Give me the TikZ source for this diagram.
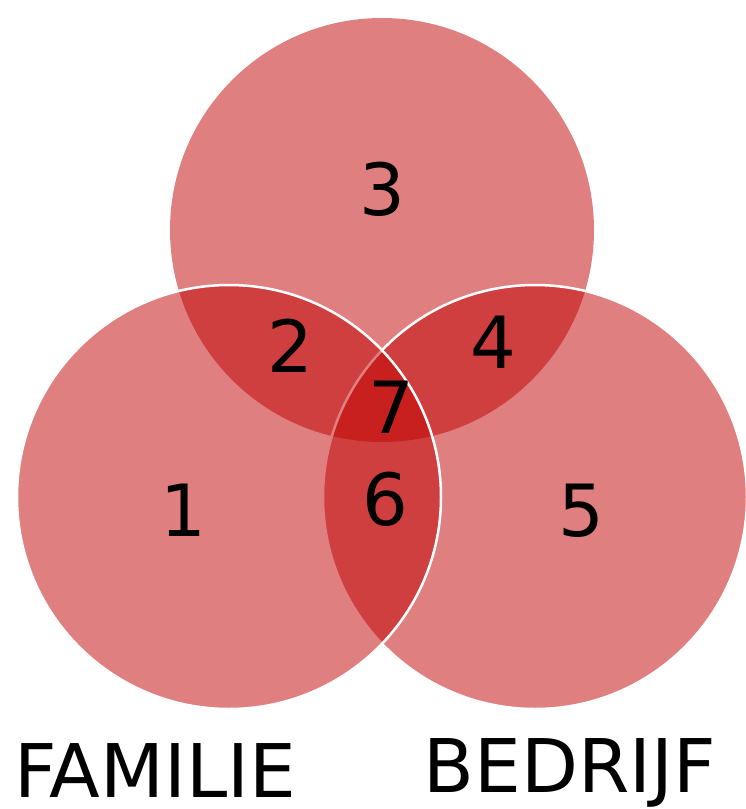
\documentclass[tikz,border=0pt]{standalone}
\usepackage{fontspec}
\setmainfont{DejaVu Sans}
\definecolor{vennred}{HTML}{C00000}
\begin{document}
\begin{tikzpicture}[x=1pt,y=-1pt,
  venn/.style={fill=vennred,fill opacity=0.5},
  vennline/.style={venn,draw=white,line width=2.5pt},
  num/.style={anchor=base,inner sep=0pt,text depth=0pt,font=\fontsize{72}{80}\selectfont},
  lab/.style={anchor=base,inner sep=0pt,text depth=0pt,font=\fontsize{74}{80}\selectfont}]
\useasboundingbox (0,0) rectangle (746,809);
\coordinate (ct) at (382,230);
\coordinate (cr) at (535,497);
\coordinate (cl) at (229,497);
\path[venn] (ct) circle[radius=212];
\path[vennline] (cr) circle[radius=212];
\path[vennline] (cl) circle[radius=212];
\node[num] (n3) at (382,215) {3};
\node[num] (n2) at (290,372) {2};
\node[num] (n4) at (493,368) {4};
\node[num] (n7) at (391,433) {7};
\node[num] (n6) at (385,525) {6};
\node[num] (n1) at (183,536) {1};
\node[num] (n5) at (581,536) {5};
\node[lab] (fam) at (155,797) {FAMILIE};
\node[lab] (bed) at (570,792) {BEDRIJF};
\end{tikzpicture}
\end{document}
